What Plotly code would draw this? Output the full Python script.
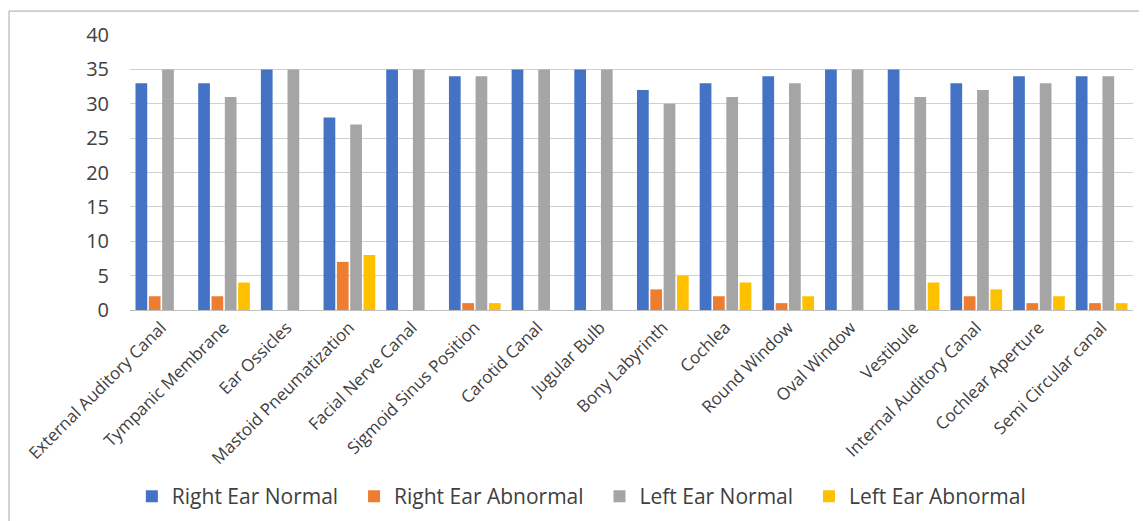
import plotly.graph_objects as go

categories = ["External Auditory Canal", "Tympanic Membrane", "Ear Ossicles",
              "Mastoid Pneumatization", "Facial Nerve Canal", "Sigmoid Sinus Position",
              "Carotid Canal", "Jugular Bulb", "Bony Labyrinth", "Cochlea",
              "Round Window", "Oval Window", "Vestibule", "Internal Auditory Canal",
              "Cochlear Aperture", "Semi Circular canal"]
right_normal = [33, 33, 35, 28, 35, 34, 35, 35, 32, 33, 34, 35, 35, 33, 34, 34]
right_abnormal = [2, 2, 0, 7, 0, 1, 0, 0, 3, 2, 1, 0, 0, 2, 1, 1]
left_normal = [35, 31, 35, 27, 35, 34, 35, 35, 30, 31, 33, 35, 31, 32, 33, 34]
left_abnormal = [0, 4, 0, 8, 0, 1, 0, 0, 5, 4, 2, 0, 4, 3, 2, 1]

series = [("Right Ear Normal", right_normal, "#4472C4"),
          ("Right Ear Abnormal", right_abnormal, "#ED7D31"),
          ("Left Ear Normal", left_normal, "#A5A5A5"),
          ("Left Ear Abnormal", left_abnormal, "#FFC000")]

fig = go.Figure()
for i, (name, vals, col) in enumerate(series):
    pad = "\u00a0\u00a0" if i < len(series) - 1 else ""
    fig.add_trace(go.Bar(x=categories, y=vals, name=name + pad, marker_color=col,
                         marker_line_width=0))

FONT = "Open Sans"
W, H = 1139, 513
fig.update_layout(
    width=W, height=H,
    margin=dict(l=122, r=14, t=27, b=211, autoexpand=False),
    paper_bgcolor="white", plot_bgcolor="white",
    barmode="group", bargap=0.15, bargroupgap=0.12,
    font=dict(family=FONT, color="#404040"),
    xaxis=dict(tickangle=-45, tickfont=dict(size=17, color="#404040"),
               showline=True, linecolor="#BFBFBF", linewidth=1, ticks="",
               automargin=False),
    yaxis=dict(range=[0, 40], dtick=5, showgrid=True, gridcolor="#D0D0D0",
               gridwidth=1, zeroline=False, tickfont=dict(size=20, color="#404040"),
               ticklabelstandoff=20, automargin=False),
    legend=dict(orientation="h", x=0.45, xanchor="center",
                yref="container", y=0.0877, yanchor="top",
                font=dict(size=21, color="#404040"),
                itemsizing="constant", traceorder="normal"),
    shapes=[dict(type="rect", xref="paper", yref="paper",
                 x0=-0.1206, x1=1.03, y0=-0.8, y1=1.087,
                 line=dict(color="#A6A6A6", width=1))],
)
fig.write_html("out.html")
